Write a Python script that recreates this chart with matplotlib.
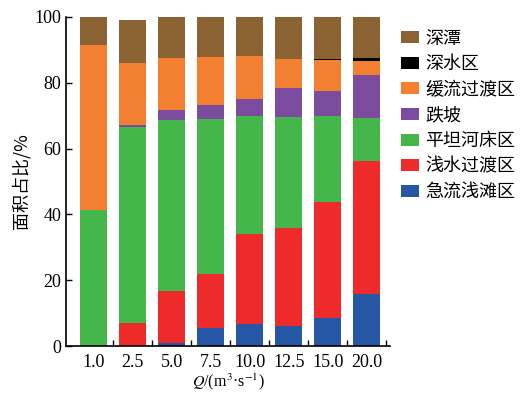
import matplotlib
matplotlib.use('Agg')
import matplotlib.pyplot as plt
import numpy as np

plt.rcParams['font.family'] = ['Liberation Serif', 'Noto Sans CJK SC']
plt.rcParams['mathtext.fontset'] = 'stix'

discharge = ['1.0', '2.5', '5.0', '7.5', '10.0', '12.5', '15.0', '20.0']
# stacked from bottom to top
zones = ['急流浅滩区', '浅水过渡区', '平坦河床区', '跌坡', '缓流过渡区', '深水区', '深潭']
colors = ['#2657a5', '#ee2a2a', '#45b649', '#7b4c9e', '#f28030', '#000000', '#8b6232']

rapid_shoal = [0.0, 0.0, 0.8, 5.4, 6.8, 6.1, 8.5, 15.8]
shallow_trans = [0.0, 6.9, 15.9, 16.4, 27.2, 29.7, 35.4, 40.4]
flat_bed = [41.2, 59.6, 52.0, 47.2, 35.9, 33.8, 26.1, 13.1]
drop_slope = [0.0, 0.6, 3.0, 4.3, 5.1, 8.9, 7.6, 13.2]
slow_trans = [50.3, 19.0, 15.7, 14.4, 13.1, 8.7, 9.3, 4.0]
deep_water = [0.0, 0.0, 0.0, 0.0, 0.0, 0.0, 0.3, 0.9]
deep_pool = [8.5, 12.9, 12.6, 12.3, 11.9, 12.8, 12.8, 12.6]

series = [rapid_shoal, shallow_trans, flat_bed, drop_slope, slow_trans, deep_water, deep_pool]

fig = plt.figure(figsize=(5.2, 3.95), dpi=100)
ax = fig.add_axes([0.127, 0.124, 0.623, 0.833])

x = np.arange(len(discharge))
bottom = np.zeros(len(discharge))
handles = []
for name, vals, c in zip(zones, series, colors):
    h = ax.bar(x, vals, width=0.69, bottom=bottom, color=c, label=name, edgecolor='none')
    handles.append(h)
    bottom += np.array(vals)

ax.set_xlim(-0.7, 7.59)
ax.set_ylim(0, 100)
ax.set_yticks([0, 20, 40, 60, 80, 100])
ax.set_xticks(x)
ax.set_xticklabels(discharge)
ax.set_xticks(x + 0.5, minor=True)
ax.tick_params(axis='x', which='major', length=0, labelsize=13, pad=6)
ax.tick_params(axis='x', which='minor', direction='in', length=4, width=1)
ax.tick_params(axis='y', direction='in', length=4, width=1, labelsize=13)
ax.spines['top'].set_visible(False)
ax.spines['right'].set_visible(False)
ax.spines['left'].set_linewidth(1.2)
ax.spines['bottom'].set_linewidth(1.2)

ax.set_ylabel('面积占比/%', fontsize=13, family=['Noto Sans CJK SC'], labelpad=3)
ax.set_xlabel(r'$Q$/(m$^3$·s$^{-1}$)', fontsize=11.5, labelpad=0)

leg = ax.legend(handles[::-1], zones[::-1], loc='upper left', bbox_to_anchor=(0.995, 1.0),
                frameon=False, prop={'family': 'Noto Sans CJK SC', 'size': 13},
                handlelength=1.0, handleheight=0.65, handletextpad=0.35,
                labelspacing=0.42, borderaxespad=0.3)

fig.savefig('out.png', dpi=100)
